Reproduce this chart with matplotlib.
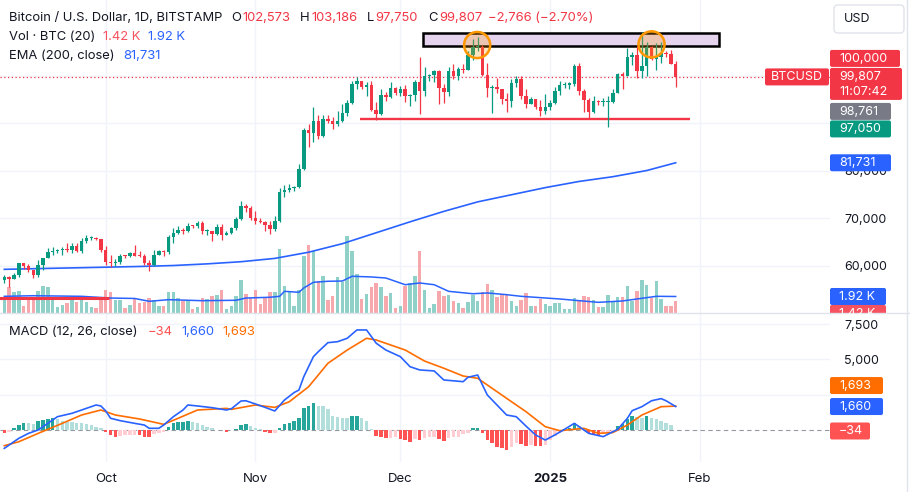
import numpy as np
import pandas as pd
import matplotlib
matplotlib.use("Agg")
import matplotlib.pyplot as plt
from matplotlib.patches import Rectangle, Ellipse, FancyBboxPatch

plt.rcParams['font.family'] = ['Inter', 'DejaVu Sans']

# ---- daily candles, BTC/USD Bitstamp, 2024-09-10 .. 2025-01-27 ----
start = '2024-09-10'
opens = [57050, 57650, 57340, 58130, 60540, 60000, 59150, 58200, 60300, 61750, 62950, 63200, 63350, 63580, 63330, 64300, 63150, 65180, 65800, 65860, 65600,
         63300, 60800, 60620, 60750, 62080, 62050, 62800, 62200, 62150, 60600, 60300, 62400, 63200, 62850, 66050, 67050, 67600, 67400, 68400, 68350, 69000, 67400, 67400, 66700, 68200, 66600, 67000, 67950, 69900, 72700, 72300,
         70200, 69500, 69300, 68700, 67800, 69400, 75600, 75900, 76500, 76700, 80400, 88700, 87950, 90500, 87300, 91000, 90600, 89800, 90500, 92300, 94300, 98400, 98900, 97700, 98000, 92900, 91900, 95900, 95600, 97400,
         96400, 97200, 95800, 96000, 98700, 96900, 99900, 100200, 101100, 97400, 96600, 101100, 100000, 101400, 101300, 104400, 106000, 106200, 100200, 97400, 97600, 97200, 95100, 94700, 98600, 99300, 95700, 94200, 95100, 93400, 92600,
         93400, 94400, 96900, 98100, 98200, 98300, 102200, 96900, 95000, 92500, 94700, 94500, 94500, 94550, 96500, 100500, 99900, 104100, 104400, 101100, 102000, 106100, 103600, 104000, 104800, 104700, 102573]
highs = [58050, 57990, 58550, 60650, 60650, 60400, 59200, 61300, 61750, 63850, 64100, 63550, 64000, 64750, 64800, 64800, 65800, 66500, 66250, 66100, 65650,
         64150, 62400, 61450, 62450, 62350, 62950, 64450, 63150, 62500, 61300, 63400, 63450, 63300, 66500, 67900, 68400, 67950, 68950, 68700, 69400, 69500, 67850, 67450, 68800, 68750, 67450, 68300, 70250, 73600, 72950, 72700,
         71600, 70000, 69400, 69450, 70550, 76400, 76950, 77250, 76850, 81450, 89150, 89950, 93400, 91800, 91850, 91750, 91450, 92600, 94000, 94900, 99000, 99800, 99000, 98650, 98950, 94600, 97200, 96600, 98750, 97750,
         97850, 98150, 96250, 99100, 103900, 101900, 100500, 101300, 101200, 98250, 101900, 102500, 101850, 102600, 105200, 107800, 108300, 106500, 102800, 98200, 99500, 97350, 96400, 99400, 99950, 99900, 97300, 95500, 95200, 94900, 96150,
         94900, 97750, 98900, 98700, 98800, 102500, 102700, 97250, 95350, 95850, 95000, 95350, 95850, 97350, 100700, 100850, 105900, 104950, 106300, 109300, 107200, 106400, 106850, 107100, 105300, 105500, 103186]
lows = [56400, 55550, 57350, 57650, 59450, 58700, 57500, 57650, 59200, 61600, 62400, 62800, 62400, 62900, 62700, 62950, 62700, 64850, 65450, 65450, 62900,
        60200, 59850, 59900, 60450, 61650, 61850, 62150, 61850, 60300, 58900, 60050, 62400, 62050, 62450, 64800, 66750, 66700, 67100, 68000, 68100, 66650, 66600, 65250, 66500, 65500, 66450, 66800, 67550, 69700, 71450, 69700,
        68800, 69050, 67450, 66800, 67450, 69300, 74500, 75550, 75800, 76500, 80200, 85100, 86200, 86700, 87100, 90050, 88750, 89400, 90400, 91550, 94100, 97200, 97200, 95750, 92600, 90800, 91800, 94650, 95400, 96100,
        95700, 94450, 93600, 94700, 91900, 95800, 98900, 98700, 94200, 94300, 95700, 99300, 99200, 100650, 101200, 103300, 105300, 100000, 95600, 92200, 96400, 94200, 92400, 93400, 97600, 95200, 93300, 94100, 93050, 91500, 91900,
        92750, 94200, 96000, 97500, 97250, 97900, 96100, 92500, 91200, 92200, 93800, 93700, 89250, 94300, 96450, 97350, 99900, 102300, 99600, 99500, 100100, 103300, 101250, 102750, 104100, 102500, 97750]
closes = [57650, 57340, 58130, 60540, 60000, 59150, 58200, 60300, 61750, 62950, 63200, 63350, 63580, 63330, 64300, 63150, 65180, 65800, 65860, 65600, 63300,
          60800, 60620, 60750, 62080, 62050, 62800, 62200, 62150, 60600, 60300, 62400, 63200, 62850, 66050, 67050, 67600, 67400, 68400, 68350, 69000, 67400, 67400, 66700, 68200, 66600, 67000, 67950, 69900, 72700, 72300, 70200,
          69500, 69300, 68700, 67800, 69400, 75600, 75900, 76500, 76700, 80400, 88700, 87950, 90500, 87300, 91000, 90600, 89800, 90500, 92300, 94300, 98400, 98900, 97700, 98000, 92900, 91900, 95900, 95600, 97400, 96400,
          97200, 95800, 96000, 98700, 96900, 99900, 100200, 101100, 97400, 96600, 101100, 100000, 101400, 101300, 104400, 106000, 106200, 100200, 97400, 97600, 97200, 95100, 94700, 98600, 99300, 95700, 94200, 95100, 93400, 92600, 93400,
          94400, 96900, 98100, 98200, 98300, 102200, 96900, 95000, 92500, 94700, 94500, 94500, 94550, 96500, 100500, 99900, 104100, 104400, 101100, 102000, 106100, 103600, 104000, 104800, 104700, 102600, 99807]

# volume, thousands of BTC
volume_k = [1.74, 2.98, 2.40, 2.59, 0.77, 1.47, 1.81, 2.59, 3.17, 2.98, 1.81, 0.65, 0.97, 1.12, 1.81, 1.23, 1.81, 1.23, 0.65, 0.53, 1.74,
            2.71, 2.40, 1.47, 1.47, 0.53, 0.88, 1.74, 1.12, 1.23, 1.74, 1.55, 0.77, 0.77, 2.40, 2.48, 1.69, 1.40, 1.48, 0.50, 0.70, 1.78, 1.66, 1.94, 2.13, 2.71, 0.50, 0.78, 2.01, 3.87, 2.24, 1.74,
            2.71, 1.08, 1.86, 2.48, 2.41, 7.48, 3.17, 2.48, 0.85, 2.71, 6.59, 7.87, 7.17, 3.76, 4.34, 1.55, 2.01, 4.22, 3.60, 8.99, 7.17, 4.57, 1.66, 2.24, 2.99, 3.49, 2.99, 2.01, 2.33, 0.58,
            0.85, 3.17, 3.49, 4.27, 7.24, 2.64, 0.58, 1.08, 2.52, 2.01, 2.13, 1.43, 1.16, 0.58, 1.28, 2.13, 1.43, 2.44, 3.41, 2.71, 1.86, 2.21, 2.24, 1.43, 0.85, 1.55, 2.33, 0.85, 0.85, 1.63, 1.08,
            0.85, 1.16, 1.16, 0.50, 0.50, 1.74, 1.55, 2.01, 1.86, 1.55, 0.66, 0.66, 2.13, 1.36, 1.83, 1.83, 3.10, 1.36, 2.59, 3.87, 3.29, 1.74, 3.76, 1.66, 0.78, 0.85, 1.42]

# indicator lines (candle index, value)
ema_idx = [0, 7, 14, 21, 28, 35, 42, 49, 56, 63, 70, 77, 84, 91, 98, 105, 112, 119, 126, 133, 139]
ema_val = [59300, 59450, 59600, 59750, 59900, 60100, 60450, 60900, 61600, 62900, 64700, 67000, 69300, 71500, 73500, 75000, 76500, 77800, 78800, 80100, 81731]

volma_idx = [0, 6, 16, 22, 27, 30, 34, 41, 48, 50, 55, 57, 58, 61, 62, 64, 67, 70, 72, 76, 79, 83, 86, 89, 92, 97, 100, 104, 107, 115, 123, 128, 135, 139]
volma_val = [1.94, 2.01, 1.94, 1.74, 1.69, 1.36, 1.55, 1.43, 1.48, 1.74, 1.83, 1.94, 2.52, 2.41, 2.91, 3.57, 3.69, 3.72, 4.27, 4.19, 4.07, 3.29, 3.49, 3.29, 2.52, 2.24, 2.33, 2.13, 1.94, 1.63, 1.24, 1.40, 1.94, 1.92]

macd_idx = [0, 3, 5, 7, 9, 11, 14, 16, 18, 19, 20, 21, 22, 24, 27, 29, 30, 32, 33, 35, 37, 38, 40, 43, 46, 47, 49, 50, 52, 54, 56, 58, 60, 61, 62, 64, 65, 67, 69,
            71, 73, 75, 77, 79, 82, 84, 86, 89, 91, 95, 96, 98, 100, 104, 106, 108, 110, 112, 114, 116, 118, 119, 121, 124, 127, 129, 130, 132, 134, 136, 137, 139]
macd_val = [-1300, -590, -240, 0, 470, 940, 1180, 1415, 1650, 1770, 1700, 1350, 830, 660, 470, 350, 120, 120, 350, 940, 1415, 1770, 1700, 1580, 1415, 1500, 2050, 2070, 1840, 1600, 1345, 2120, 2650, 2830, 3770, 5190, 5540, 6180, 6250,
            6490, 7080, 7080, 6140, 5660, 5190, 4480, 4250, 4180, 3540, 3420, 3730, 3890, 2480, 1060, 940, 280, -350, -710, -350, 50, 470, 240, -240, -470, 50, 830, 1370, 1650, 2070, 2220, 2070, 1660]

signal_idx = [0, 3, 7, 12, 16, 20, 23, 28, 33, 36, 40, 46, 47, 52, 56, 59, 63, 67, 71, 75, 77, 83, 87, 91, 95, 98, 101, 104, 108, 112, 115, 118, 120, 123, 126, 129, 132, 136, 139]
signal_val = [-1110, -830, -240, 470, 1060, 1415, 1060, 780, 400, 830, 1415, 1530, 1460, 1770, 1600, 2000, 3060, 4720, 5660, 6490, 6370, 5660, 4880, 4370, 3820, 3660, 2950, 2240, 1300, 235, -50, 50, 120, -240, -180, 350, 1060, 1650, 1693]

hist = [-190, -120, 160, 350, 520, 470, 420, 660, 710, 780, 830, 760, 660, 590, 570, 520, 500, 420, 350, 240, 120,
        -170, -350, -470, -420, -370, -350, -330, -350, -470, -480, -280, -190, -120, 240, 470, 590, 590, 660, 590, 470, 350, 240, 120, 20, 0, -120, 10, 70, 350, 420, 280,
        120, 70, -120, -240, -240, 120, 420, 520, 660, 830, 1530, 1700, 1890, 1700, 1690, 1460, 990, 900, 840, 830, 990, 1000, 830, 660, 50, -420, -520, -590, -590, -520,
        -620, -740, -830, -660, -710, -590, -470, -470, -660, -750, -590, -520, -470, -300, -180, 120, 160, -240, -710, -900, -1180, -1300, -1420, -1180, -940, -990, -1130, -1060, -1130, -1140, -1060,
        -710, -420, -190, 10, 120, 470, 280, 120, -190, -310, -350, -280, -190, -120, 280, 420, 760, 990, 900, 830, 990, 830, 760, 660, 520, 350, -34]

# user drawings
support_level = 90880
old_level = 53330
zone_low, zone_high = 106310, 108980
zone_from, zone_to = 86.7, 148
top_marks = [(97.9, 106520), (134.0, 106660)]
prev_tags = [100000, 98761, 97050]

n = len(closes)
assert len(opens) == len(highs) == len(lows) == n == len(volume_k) == len(hist)
dates = pd.date_range(start, periods=n, freq='D')
idx = np.arange(n)
o, h, l, c = map(np.array, (opens, highs, lows, closes))

GREEN, RED, BLUE, ORANGE = '#089981', '#F23645', '#2962FF', '#FF6D00'
TXT, GRID = '#131722', '#F0F3FA'
W, H = 910, 492

fig = plt.figure(figsize=(W / 100, H / 100), dpi=100, facecolor='white')

def rect(x0, y0, x1, y1):
    return [x0 / W, 1 - y1 / H, (x1 - x0) / W, (y1 - y0) / H]

axv = fig.add_axes(rect(0, 0, 830, 313))
ax = fig.add_axes(rect(0, 0, 830, 313), sharex=axv)
axm = fig.add_axes(rect(0, 313, 830, 462), sharex=axv)
axv.set_zorder(0)
ax.set_zorder(1)
ax.patch.set_visible(False)

ax.set_xlim(-0.89, 170.95)
ax.set_ylim(50105, 116000)
axv.set_ylim(0, 313 / 8.6)
axm.set_ylim(-2265, 8280)

month_starts = ['2024-10-01', '2024-11-01', '2024-12-01', '2025-01-01', '2025-02-01']
month_pos = [(pd.Timestamp(d) - dates[0]).days for d in month_starts]
month_lbl = ['Oct', 'Nov', 'Dec', '2025', 'Feb']

for a in (ax, axv, axm):
    for s in a.spines.values():
        s.set_visible(False)
    a.tick_params(length=0)
axv.tick_params(labelbottom=False, labelleft=False)

# grid
for p in month_pos:
    axv.axvline(p, color=GRID, lw=1, zorder=0)
    axm.axvline(p, color=GRID, lw=1, zorder=0)
price_grid = [60000, 70000, 80000, 90000, 100000]
for v in price_grid:
    axv.axhline((v - 50105) / (116000 - 50105) * (313 / 8.6), color=GRID, lw=1, zorder=0)
for v in [2500, 5000, 7500]:
    axm.axhline(v, color=GRID, lw=1, zorder=0)
axm.axhline(0, color='#9598A1', lw=0.8, ls=(0, (4, 3)), zorder=1)

# volume
up = c >= o
vcol = np.where(up, '#8FD0C8', '#F6A8AC')
axv.bar(idx, volume_k, width=0.72, color=vcol, zorder=1)
axv.plot(volma_idx, volma_val, color=BLUE, lw=1.1, zorder=2)
axv.set_yticks([])

# price pane
ax.add_patch(Rectangle((zone_from, zone_low), zone_to - zone_from, zone_high - zone_low,
                       facecolor='#E6D3EE', edgecolor='black', lw=1.8, zorder=1))
ax.hlines(support_level, 73.6, 142, color=RED, lw=1.7, zorder=2)
ax.hlines(old_level, -1, 21.7, color=RED, lw=2.2, zorder=2)
ax.axhline(closes[-1], color=RED, lw=0.9, ls=(0, (1, 2)), zorder=2)
ax.plot(ema_idx, ema_val, color=BLUE, lw=1.2, zorder=3)

ccol = np.where(up, GREEN, RED)
ax.vlines(idx, l, h, colors=ccol, lw=0.9, zorder=4)
body_lo = np.minimum(o, c)
body_h = np.maximum(np.abs(c - o), 230)
ax.bar(idx, body_h, bottom=body_lo, width=0.72, color=ccol, zorder=5)

for cx, cy in top_marks:
    ax.add_patch(Ellipse((cx, cy), 5.4, 5500, facecolor=(1, 0.6, 0, 0.25),
                         edgecolor='#FF9800', lw=1.8, zorder=6))

# only the scale labels that are not covered by price tags
price_ticks = [60000, 70000, 80000]
ax.yaxis.tick_right()
ax.set_yticks(price_ticks)
ax.set_yticklabels([f'{v:,}' for v in price_ticks])
ax.tick_params(axis='y', labelsize=9, labelcolor=TXT, pad=10, labelright=True, labelleft=False)
ax.tick_params(axis='x', labelbottom=False)

# MACD pane
hcol = []
for k, v in enumerate(hist):
    prev = hist[k - 1] if k else v + 1
    if v >= 0:
        hcol.append('#26A69A' if v >= prev else '#B2DFDB')
    else:
        hcol.append('#FF5252' if v < prev else '#FFCDD2')
axm.bar(idx, hist, width=0.72, color=hcol, zorder=2)
axm.plot(signal_idx, signal_val, color=ORANGE, lw=1.2, zorder=3)
axm.plot(macd_idx, macd_val, color=BLUE, lw=1.2, zorder=4)
axm.yaxis.tick_right()
axm.set_yticks([5000, 7500])
axm.set_yticklabels(['5,000', '7,500'])
axm.tick_params(axis='y', labelsize=9, labelcolor=TXT, pad=10, labelright=True, labelleft=False)
axm.set_xticks(month_pos)
axm.set_xticklabels(month_lbl)
axm.tick_params(axis='x', labelsize=9.5, labelcolor=TXT, pad=8, labelbottom=True)
for t in axm.get_xticklabels():
    if t.get_text() == '2025':
        t.set_fontweight('bold')

# overlay for legends and price tags (pixel coordinates, y down)
ov = fig.add_axes([0, 0, 1, 1], zorder=10)
ov.set_xlim(0, W)
ov.set_ylim(H, 0)
ov.axis('off')

def ypix(a, v):
    return H - a.transData.transform((0, v))[1]

def tag(yc, text, bg, width, x0=830, hh=17, fg='white', clip=None):
    p = FancyBboxPatch((x0, yc - hh / 2), width, hh, boxstyle='round,pad=0,rounding_size=2',
                       facecolor=bg, edgecolor='none')
    ov.add_patch(p)
    t = ov.text(x0 + 9, yc + 0.5, text, color=fg, fontsize=9, va='center', ha='left')
    if clip is not None:
        cr = Rectangle((0, 0), W, clip, transform=ov.transData)
        p.set_clip_path(cr)
        t.set_clip_path(cr)

# separators
ov.plot([0, W], [313, 313], color='#E0E3EB', lw=1)
ov.plot([907, 907], [0, H], color='#E0E3EB', lw=1)

# legends
def row(y, parts, size=9.35):
    for s, col, xx in parts:
        ov.text(xx, y, s, color=col, fontsize=size, va='center', ha='left')

row(18, [('Bitcoin / U.S. Dollar, 1D, BITSTAMP', TXT, 9),
         ('O', TXT, 231), (f'{opens[-1]:,}', RED, 242),
         ('H', TXT, 300), (f'{highs[-1]:,}', RED, 311),
         ('L', TXT, 367), (f'{lows[-1]:,}', RED, 375),
         ('C', TXT, 428), (f'{closes[-1]:,}', RED, 439),
         (f'\u2212{opens[-1] - closes[-1]:,} (\u2212{(opens[-1] - closes[-1]) / opens[-1] * 100:.2f}%)', RED, 488)])
row(37, [('Vol \u00b7 BTC (20)', TXT, 9), (f'{volume_k[-1]:.2f} K', '#F7525F', 103), (f'{volma_val[-1]:.2f} K', BLUE, 148)])
row(56, [('EMA (200, close)', TXT, 9), (f'{ema_val[-1]:,}', BLUE, 123)])
row(332, [('MACD (12, 26, close)', TXT, 9), (f'\u2212{abs(hist[-1])}', '#FF5252', 148),
          (f'{macd_val[-1]:,}', BLUE, 181), (f'{signal_val[-1]:,}', ORANGE, 222)])

# USD button
ov.add_patch(FancyBboxPatch((834, 5), 70, 28, boxstyle='round,pad=0,rounding_size=4',
                            facecolor='white', edgecolor='#E0E3EB', lw=1))
ov.text(844, 19.5, 'USD', color=TXT, fontsize=9, va='center')

# price tags
yl = ypix(ax, closes[-1])
ov.add_patch(FancyBboxPatch((830, yl - 9), 72, 32, boxstyle='round,pad=0,rounding_size=2',
                            facecolor=RED, edgecolor='none'))
ov.text(839, yl + 0.5, f'{closes[-1]:,}', color='white', fontsize=9, va='center')
ov.text(839, yl + 15.5, '11:07:42', color='white', fontsize=9, va='center')
ov.add_patch(FancyBboxPatch((765, yl - 8.5), 64, 17, boxstyle='round,pad=0,rounding_size=2',
                            facecolor=RED, edgecolor='none'))
ov.text(797, yl + 0.5, 'BTCUSD', color='white', fontsize=9, va='center', ha='center')
tag(yl - 18.5, f'{prev_tags[0]:,}', RED, 70)
tag(yl + 34.5, f'{prev_tags[1]:,}', '#787B86', 61)
tag(yl + 52, f'{prev_tags[2]:,}', GREEN, 61)
tag(ypix(ax, ema_val[-1]), f'{ema_val[-1]:,}', BLUE, 61)
tag(ypix(axv, volma_val[-1]), f'{volma_val[-1]:.2f} K', BLUE, 56)
tag(ypix(axv, volma_val[-1]) + 17, f'{volume_k[-1]:.2f} K', '#F7525F', 56, clip=313)
y_m = ypix(axm, macd_val[-1])
tag(y_m - 21, f'{signal_val[-1]:,}', ORANGE, 53)
tag(y_m, f'{macd_val[-1]:,}', BLUE, 53)
tag(ypix(axm, 0) + 1, f'\u2212{abs(hist[-1])}', '#FF5252', 40)

fig.savefig('out.png', dpi=100, facecolor='white')
